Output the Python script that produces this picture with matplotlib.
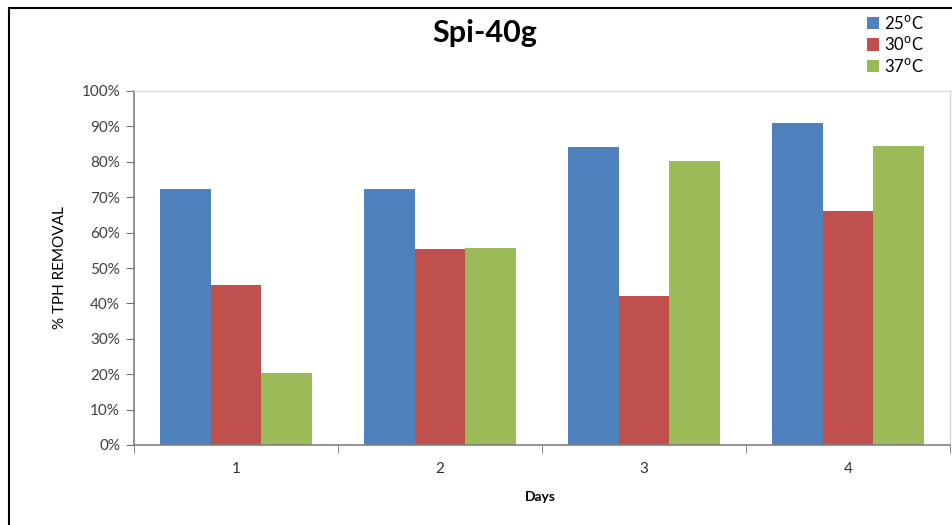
import numpy as np
import matplotlib.pyplot as plt
from matplotlib.patches import Rectangle

days = [1, 2, 3, 4]
temps = ['25$^{\\mathrm{o}}$C', '30$^{\\mathrm{o}}$C', '37$^{\\mathrm{o}}$C']
removal_25 = [72.3, 72.3, 84.2, 91.0]
removal_30 = [45.2, 55.3, 42.1, 66.0]
removal_37 = [20.3, 55.6, 80.1, 84.4]
colors = ['#4F81BD', '#C0504D', '#9BBB59']

plt.rcParams['font.family'] = ['Lato', 'DejaVu Sans']

fig = plt.figure(figsize=(9.53, 5.25), dpi=100)
# outer chart border
fig.patches.append(Rectangle((9 / 953, -0.1), 1.2, 1 - 8 / 525 + 0.1,
                             transform=fig.transFigure, fill=False,
                             edgecolor='black', linewidth=1.5))

ax = fig.add_axes([134 / 953, 1 - 445 / 525, 816 / 953, 354 / 525])
x = np.arange(len(days))
w = 0.2475
for i, vals in enumerate([removal_25, removal_30, removal_37]):
    ax.bar(x + (i - 1) * w, vals, width=w, color=colors[i], label=temps[i])

ax.set_xlim(-0.5, len(days) - 0.5)
ax.set_ylim(0, 100)
ax.set_yticks(range(0, 101, 10))
ax.set_yticklabels([f'{v}%' for v in range(0, 101, 10)])
ax.set_xticks(x)
ax.set_xticklabels([str(d) for d in days])
ax.set_xticks(np.arange(-0.5, len(days), 1), minor=True)
ax.tick_params(axis='x', which='major', length=0, pad=12, labelsize=11, labelcolor='#303030')
ax.tick_params(axis='x', which='minor', length=6, color='#707070', direction='out')
ax.tick_params(axis='y', length=6, color='#707070', labelsize=11, labelcolor='#404040', pad=4)

for s in ['left', 'bottom']:
    ax.spines[s].set_color('#808080')
    ax.spines[s].set_linewidth(1.2)
for s in ['top', 'right']:
    ax.spines[s].set_color('#d8d8d8')
    ax.spines[s].set_linewidth(1.0)

ax.set_ylabel('% TPH REMOVAL', fontsize=11, labelpad=10)
fig.text(540 / 953, 1 - 497 / 525, 'Days', fontsize=10, fontweight='bold',
         ha='center', va='center')
fig.text(485 / 953, 1 - 33 / 525, 'Spi-40g', fontsize=22, fontweight='bold',
         ha='center', va='center')

ax.legend(loc='upper left', bbox_to_anchor=(860 / 953, 1 - 7 / 525),
          bbox_transform=fig.transFigure, frameon=False, fontsize=12,
          handlelength=0.75, handleheight=0.75, handletextpad=0.3,
          labelspacing=0.22, borderaxespad=0)

fig.savefig('out.png', dpi=100)
